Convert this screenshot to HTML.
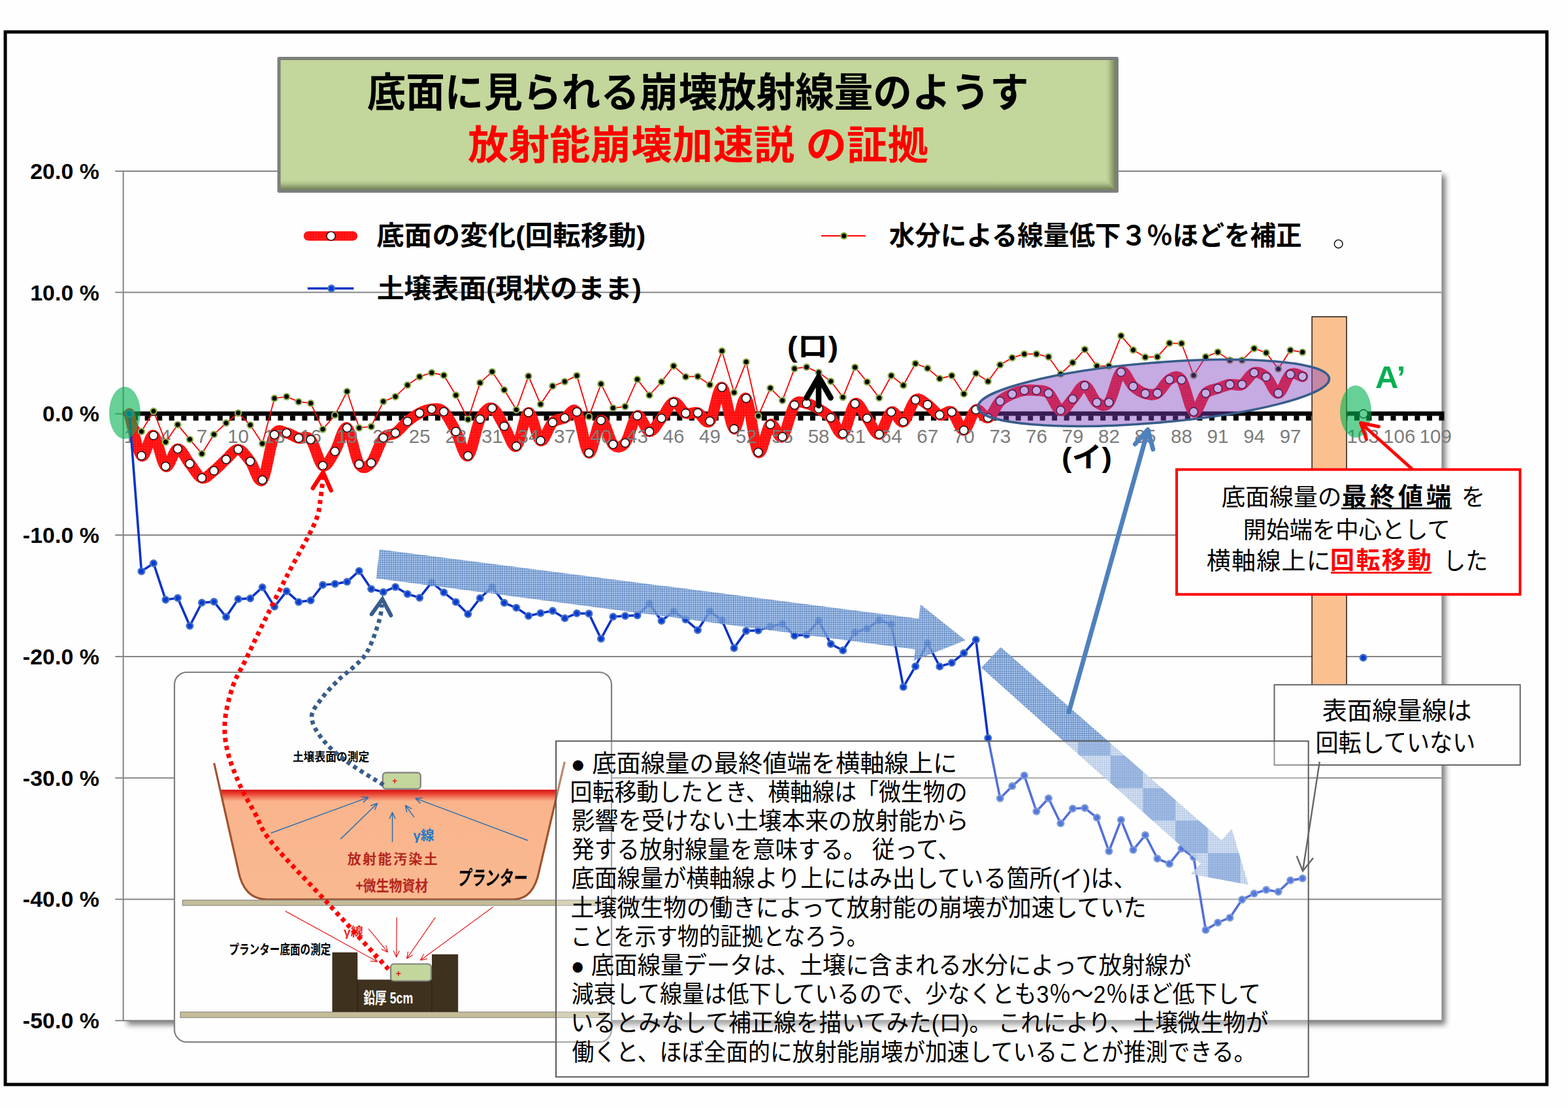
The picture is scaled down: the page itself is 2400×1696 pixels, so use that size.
<!DOCTYPE html>
<html><head><meta charset="utf-8"><title>chart</title>
<style>html,body{margin:0;padding:0;background:#fefefe}svg{display:block}text{font-family:"Liberation Sans",sans-serif}text.j{font-family:"Liberation Sans","Noto Sans CJK JP",sans-serif}</style>
</head><body>
<svg width="2400" height="1696" viewBox="0 0 2400 1696">
<defs>
<filter id="sh" x="-2%" y="-2%" width="104%" height="104%"><feGaussianBlur stdDeviation="4"/></filter>
<pattern id="pr" width="2.6" height="2.6" patternUnits="userSpaceOnUse"><rect width="2.6" height="2.6" fill="#f00"/><rect width="1" height="1" fill="#fff" fill-opacity=".55"/></pattern>
<pattern id="pb" width="3.4" height="3.4" patternUnits="userSpaceOnUse"><rect width="3.4" height="3.4" fill="#a8c9f3"/><path d="M0 .5H3.4M.5 0V3.4" stroke="#4470b2" stroke-width="1.1"/></pattern>
<pattern id="pc" width="99.4" height="99.4" patternUnits="userSpaceOnUse" patternTransform="translate(1650 1107)"><rect width="99.4" height="99.4" fill="#fff" fill-opacity=".3"/><rect width="49.7" height="49.7" fill="#5a88cc" fill-opacity=".42"/><rect x="49.7" y="49.7" width="49.7" height="49.7" fill="#5a88cc" fill-opacity=".42"/></pattern>
<linearGradient id="so" x1="0" y1="1209.7" x2="0" y2="1378" gradientUnits="userSpaceOnUse"><stop offset="0" stop-color="#d81818"/><stop offset=".03" stop-color="#e84030"/><stop offset=".1" stop-color="#f9b48c"/><stop offset="1" stop-color="#fab990"/></linearGradient>
<linearGradient id="tr" x1="1692" y1="0" x2="1708" y2="0" gradientUnits="userSpaceOnUse"><stop offset="0" stop-color="#c3d69b"/><stop offset=".3" stop-color="#b7c991"/><stop offset="1" stop-color="#6e7d55"/></linearGradient>
<linearGradient id="tb" x1="0" y1="276" x2="0" y2="292" gradientUnits="userSpaceOnUse"><stop offset="0" stop-color="#c3d69b"/><stop offset=".3" stop-color="#b2c48d"/><stop offset="1" stop-color="#64724a"/></linearGradient>
</defs>
<rect width="2400" height="1696" fill="#fefefe"/>
<rect x="8.1" y="48.9" width="2359.6" height="1611.1" fill="none" stroke="#000" stroke-width="5"/>
<rect x="194.7" y="268.0" width="2017.8" height="1300.8" fill="#000" opacity=".5" filter="url(#sh)"/>
<rect x="188.7" y="262.0" width="2017.8" height="1300.8" fill="#fefefe"/>
<path d="M176.3 261.9H2206.5M176.3 447.6H2206.5M176.3 819.1H2206.5M176.3 1004.9H2206.5M176.3 1190.7H2206.5M176.3 1376.4H2206.5M176.3 1562.2H2206.5M176.3 633.4H188.7M188.7 261.0V1562.8" stroke="#868686" stroke-width="2" fill="none"/>
<text x="152" y="273.9" text-anchor="end" font-family="Liberation Sans" font-weight="bold" font-size="34" fill="#000">20.0 %</text>
<text x="152" y="459.6" text-anchor="end" font-family="Liberation Sans" font-weight="bold" font-size="34" fill="#000">10.0 %</text>
<text x="152" y="645.4" text-anchor="end" font-family="Liberation Sans" font-weight="bold" font-size="34" fill="#000">0.0 %</text>
<text x="152" y="831.1" text-anchor="end" font-family="Liberation Sans" font-weight="bold" font-size="34" fill="#000">-10.0 %</text>
<text x="152" y="1016.9" text-anchor="end" font-family="Liberation Sans" font-weight="bold" font-size="34" fill="#000">-20.0 %</text>
<text x="152" y="1202.7" text-anchor="end" font-family="Liberation Sans" font-weight="bold" font-size="34" fill="#000">-30.0 %</text>
<text x="152" y="1388.4" text-anchor="end" font-family="Liberation Sans" font-weight="bold" font-size="34" fill="#000">-40.0 %</text>
<text x="152" y="1574.2" text-anchor="end" font-family="Liberation Sans" font-weight="bold" font-size="34" fill="#000">-50.0 %</text>
<path d="M188.7 633.2H2210.5" stroke="#000" stroke-width="6.8" fill="none"/>
<path d="M207.2 636.3v7.4M225.7 636.3v7.4M244.2 636.3v7.4M262.7 636.3v7.4M281.3 636.3v7.4M299.8 636.3v7.4M318.3 636.3v7.4M336.8 636.3v7.4M355.3 636.3v7.4M373.8 636.3v7.4M392.3 636.3v7.4M410.8 636.3v7.4M429.4 636.3v7.4M447.9 636.3v7.4M466.4 636.3v7.4M484.9 636.3v7.4M503.4 636.3v7.4M521.9 636.3v7.4M540.4 636.3v7.4M558.9 636.3v7.4M577.5 636.3v7.4M596.0 636.3v7.4M614.5 636.3v7.4M633.0 636.3v7.4M651.5 636.3v7.4M670.0 636.3v7.4M688.5 636.3v7.4M707.0 636.3v7.4M725.5 636.3v7.4M744.1 636.3v7.4M762.6 636.3v7.4M781.1 636.3v7.4M799.6 636.3v7.4M818.1 636.3v7.4M836.6 636.3v7.4M855.1 636.3v7.4M873.6 636.3v7.4M892.2 636.3v7.4M910.7 636.3v7.4M929.2 636.3v7.4M947.7 636.3v7.4M966.2 636.3v7.4M984.7 636.3v7.4M1003.2 636.3v7.4M1021.7 636.3v7.4M1040.3 636.3v7.4M1058.8 636.3v7.4M1077.3 636.3v7.4M1095.8 636.3v7.4M1114.3 636.3v7.4M1132.8 636.3v7.4M1151.3 636.3v7.4M1169.8 636.3v7.4M1188.3 636.3v7.4M1206.9 636.3v7.4M1225.4 636.3v7.4M1243.9 636.3v7.4M1262.4 636.3v7.4M1280.9 636.3v7.4M1299.4 636.3v7.4M1317.9 636.3v7.4M1336.4 636.3v7.4M1355.0 636.3v7.4M1373.5 636.3v7.4M1392.0 636.3v7.4M1410.5 636.3v7.4M1429.0 636.3v7.4M1447.5 636.3v7.4M1466.0 636.3v7.4M1484.5 636.3v7.4M1503.1 636.3v7.4M1521.6 636.3v7.4M1540.1 636.3v7.4M1558.6 636.3v7.4M1577.1 636.3v7.4M1595.6 636.3v7.4M1614.1 636.3v7.4M1632.6 636.3v7.4M1651.1 636.3v7.4M1669.7 636.3v7.4M1688.2 636.3v7.4M1706.7 636.3v7.4M1725.2 636.3v7.4M1743.7 636.3v7.4M1762.2 636.3v7.4M1780.7 636.3v7.4M1799.2 636.3v7.4M1817.8 636.3v7.4M1836.3 636.3v7.4M1854.8 636.3v7.4M1873.3 636.3v7.4M1891.8 636.3v7.4M1910.3 636.3v7.4M1928.8 636.3v7.4M1947.3 636.3v7.4M1965.9 636.3v7.4M1984.4 636.3v7.4M2002.9 636.3v7.4M2021.4 636.3v7.4M2039.9 636.3v7.4M2058.4 636.3v7.4M2076.9 636.3v7.4M2095.4 636.3v7.4M2113.9 636.3v7.4M2132.5 636.3v7.4M2151.0 636.3v7.4M2169.5 636.3v7.4M2188.0 636.3v7.4M2206.5 636.3v7.4" stroke="#000" stroke-width="8" fill="none"/>
<path d="M198.0 633.4C201.0 644.1 210.3 692.1 216.5 697.6C222.6 703.1 228.8 663.9 235.0 666.6C241.2 669.3 247.3 710.4 253.5 713.8C259.7 717.2 265.8 687.9 272.0 687.2C278.2 686.5 284.3 702.4 290.5 709.8C296.7 717.2 302.9 729.8 309.0 731.6C315.2 733.4 321.4 725.3 327.5 720.6C333.7 715.9 339.9 708.6 346.1 703.2C352.2 697.8 358.4 687.5 364.6 688.0C370.7 688.5 376.9 698.5 383.1 706.3C389.2 714.1 395.4 741.5 401.6 734.7C407.8 727.9 413.9 677.4 420.1 665.4C426.3 653.4 432.4 661.9 438.6 662.8C444.8 663.7 451.0 668.9 457.1 670.6C463.3 672.3 469.5 665.9 475.6 672.9C481.8 679.9 488.0 709.8 494.1 712.8C500.3 715.8 506.5 700.6 512.7 691.0C518.8 681.4 525.0 651.7 531.2 655.0C537.3 658.3 543.5 701.7 549.7 710.6C555.9 719.5 562.0 715.3 568.2 708.6C574.4 701.9 580.5 677.9 586.7 670.3C592.9 662.7 599.0 667.0 605.2 662.8C611.4 658.6 617.6 650.2 623.7 645.1C629.9 640.0 636.1 635.4 642.2 632.3C648.4 629.1 654.6 626.6 660.8 626.2C666.9 625.9 673.1 624.5 679.3 630.2C685.4 635.9 691.6 649.4 697.8 660.6C704.0 671.9 710.1 700.9 716.3 697.7C722.5 694.5 728.6 653.8 734.8 641.6C741.0 629.5 747.1 623.0 753.3 624.8C759.5 626.6 765.7 642.7 771.8 652.4C778.0 662.1 784.2 686.4 790.3 682.9C796.5 679.4 802.7 632.9 808.9 631.5C815.0 630.1 821.2 672.0 827.4 674.5C833.5 677.0 839.7 652.4 845.9 646.6C852.0 640.8 858.2 642.5 864.4 639.8C870.6 637.1 876.7 621.7 882.9 630.6C889.1 639.5 895.2 691.2 901.4 693.3C907.6 695.4 913.8 645.6 919.9 643.4C926.1 641.2 932.3 674.5 938.4 680.3C944.6 686.1 950.8 685.3 956.9 678.0C963.1 670.7 969.3 639.3 975.5 636.4C981.6 633.5 987.8 660.0 994.0 660.6C1000.1 661.2 1006.3 647.7 1012.5 640.2C1018.7 632.8 1024.8 617.2 1031.0 615.9C1037.2 614.6 1043.3 629.7 1049.5 632.4C1055.7 635.1 1061.8 629.9 1068.0 631.9C1074.2 633.9 1080.4 651.1 1086.5 644.6C1092.7 638.1 1098.9 590.9 1105.0 592.9C1111.2 594.9 1117.4 653.6 1123.6 656.4C1129.7 659.2 1135.9 603.8 1142.1 609.8C1148.2 615.8 1154.4 685.5 1160.6 692.2C1166.8 698.9 1172.9 653.7 1179.1 649.8C1185.3 645.9 1191.4 673.6 1197.6 668.6C1203.8 663.6 1209.9 628.4 1216.1 619.9C1222.3 611.4 1228.5 616.6 1234.6 617.6C1240.8 618.6 1247.0 622.2 1253.1 625.8C1259.3 629.4 1265.5 633.1 1271.7 639.4C1277.8 645.7 1284.0 667.4 1290.2 663.8C1296.3 660.2 1302.5 621.8 1308.7 617.9C1314.8 614.0 1321.0 632.5 1327.2 640.3C1333.4 648.1 1339.5 666.3 1345.7 664.7C1351.9 663.1 1358.0 633.9 1364.2 630.7C1370.4 627.5 1376.6 648.6 1382.7 645.5C1388.9 642.4 1395.1 616.5 1401.2 612.1C1407.4 607.8 1413.6 615.6 1419.7 619.4C1425.9 623.2 1432.1 633.2 1438.3 635.1C1444.4 637.0 1450.6 626.8 1456.8 630.7C1462.9 634.6 1469.1 659.2 1475.3 658.6C1481.5 658.0 1487.6 630.4 1493.8 627.2C1500.0 624.0 1506.1 641.6 1512.3 639.4C1518.5 637.2 1524.6 620.1 1530.8 614.1C1537.0 608.1 1543.2 606.0 1549.3 603.3C1555.5 600.5 1561.7 598.5 1567.8 597.6C1574.0 596.7 1580.2 596.9 1586.4 597.6C1592.5 598.3 1598.7 596.9 1604.9 602.0C1611.0 607.1 1617.2 626.6 1623.4 628.1C1629.6 629.6 1635.7 617.0 1641.9 610.7C1648.1 604.5 1654.2 589.7 1660.4 590.6C1666.6 591.5 1672.7 611.8 1678.9 616.0C1685.1 620.2 1691.3 623.7 1697.4 616.0C1703.6 608.3 1709.8 573.8 1715.9 569.7C1722.1 565.6 1728.3 586.0 1734.5 591.4C1740.6 596.8 1746.8 600.6 1753.0 602.4C1759.1 604.1 1765.3 605.5 1771.5 601.9C1777.6 598.3 1783.8 584.4 1790.0 581.0C1796.2 577.6 1802.3 573.3 1808.5 581.5C1814.7 589.7 1820.8 626.9 1827.0 630.3C1833.2 633.7 1839.4 607.8 1845.5 601.9C1851.7 596.0 1857.9 596.8 1864.0 594.6C1870.2 592.4 1876.4 589.5 1882.5 588.5C1888.7 587.5 1894.9 591.5 1901.1 588.5C1907.2 585.5 1913.4 572.4 1919.6 570.5C1925.7 568.6 1931.9 571.9 1938.1 577.1C1944.3 582.3 1950.4 602.6 1956.6 601.9C1962.8 601.2 1968.9 577.4 1975.1 573.1C1981.3 568.8 1990.5 575.8 1993.6 576.3" stroke="url(#pr)" stroke-width="17" fill="none" stroke-linejoin="round" stroke-linecap="round"/>
<g font-family="Liberation Sans" font-size="29.5" fill="#7c7c7c" text-anchor="middle"><text x="198.0" y="678">1</text><text x="253.5" y="678">4</text><text x="309.0" y="678">7</text><text x="364.6" y="678">10</text><text x="420.1" y="678">13</text><text x="475.6" y="678">16</text><text x="531.2" y="678">19</text><text x="586.7" y="678">22</text><text x="642.2" y="678">25</text><text x="697.8" y="678">28</text><text x="753.3" y="678">31</text><text x="808.9" y="678">34</text><text x="864.4" y="678">37</text><text x="919.9" y="678">40</text><text x="975.5" y="678">43</text><text x="1031.0" y="678">46</text><text x="1086.5" y="678">49</text><text x="1142.1" y="678">52</text><text x="1197.6" y="678">55</text><text x="1253.1" y="678">58</text><text x="1308.7" y="678">61</text><text x="1364.2" y="678">64</text><text x="1419.7" y="678">67</text><text x="1475.3" y="678">70</text><text x="1530.8" y="678">73</text><text x="1586.4" y="678">76</text><text x="1641.9" y="678">79</text><text x="1697.4" y="678">82</text><text x="1753.0" y="678">85</text><text x="1808.5" y="678">88</text><text x="1864.0" y="678">91</text><text x="1919.6" y="678">94</text><text x="1975.1" y="678">97</text><text x="2030.6" y="678">100</text><text x="2086.2" y="678">103</text><text x="2141.7" y="678">106</text><text x="2197.3" y="678">109</text></g>
<g fill="#fff" stroke="#000" stroke-width="1.3"><circle cx="216.5" cy="697.6" r="6.4"/><circle cx="235.0" cy="666.6" r="6.4"/><circle cx="253.5" cy="713.8" r="6.4"/><circle cx="272.0" cy="687.2" r="6.4"/><circle cx="290.5" cy="709.8" r="6.4"/><circle cx="309.0" cy="731.6" r="6.4"/><circle cx="327.5" cy="720.6" r="6.4"/><circle cx="346.1" cy="703.2" r="6.4"/><circle cx="364.6" cy="688.0" r="6.4"/><circle cx="383.1" cy="706.3" r="6.4"/><circle cx="401.6" cy="734.7" r="6.4"/><circle cx="420.1" cy="665.4" r="6.4"/><circle cx="438.6" cy="662.8" r="6.4"/><circle cx="457.1" cy="670.6" r="6.4"/><circle cx="475.6" cy="672.9" r="6.4"/><circle cx="494.1" cy="712.8" r="6.4"/><circle cx="512.7" cy="691.0" r="6.4"/><circle cx="531.2" cy="655.0" r="6.4"/><circle cx="549.7" cy="710.6" r="6.4"/><circle cx="568.2" cy="708.6" r="6.4"/><circle cx="586.7" cy="670.3" r="6.4"/><circle cx="605.2" cy="662.8" r="6.4"/><circle cx="623.7" cy="645.1" r="6.4"/><circle cx="642.2" cy="632.3" r="6.4"/><circle cx="660.8" cy="626.2" r="6.4"/><circle cx="679.3" cy="630.2" r="6.4"/><circle cx="697.8" cy="660.6" r="6.4"/><circle cx="716.3" cy="697.7" r="6.4"/><circle cx="734.8" cy="641.6" r="6.4"/><circle cx="753.3" cy="624.8" r="6.4"/><circle cx="771.8" cy="652.4" r="6.4"/><circle cx="790.3" cy="682.9" r="6.4"/><circle cx="808.9" cy="631.5" r="6.4"/><circle cx="827.4" cy="674.5" r="6.4"/><circle cx="845.9" cy="646.6" r="6.4"/><circle cx="864.4" cy="639.8" r="6.4"/><circle cx="882.9" cy="630.6" r="6.4"/><circle cx="901.4" cy="693.3" r="6.4"/><circle cx="919.9" cy="643.4" r="6.4"/><circle cx="938.4" cy="680.3" r="6.4"/><circle cx="956.9" cy="678.0" r="6.4"/><circle cx="975.5" cy="636.4" r="6.4"/><circle cx="994.0" cy="660.6" r="6.4"/><circle cx="1012.5" cy="640.2" r="6.4"/><circle cx="1031.0" cy="615.9" r="6.4"/><circle cx="1049.5" cy="632.4" r="6.4"/><circle cx="1068.0" cy="631.9" r="6.4"/><circle cx="1086.5" cy="644.6" r="6.4"/><circle cx="1105.0" cy="592.9" r="6.4"/><circle cx="1123.6" cy="656.4" r="6.4"/><circle cx="1142.1" cy="609.8" r="6.4"/><circle cx="1160.6" cy="692.2" r="6.4"/><circle cx="1179.1" cy="649.8" r="6.4"/><circle cx="1197.6" cy="668.6" r="6.4"/><circle cx="1216.1" cy="619.9" r="6.4"/><circle cx="1234.6" cy="617.6" r="6.4"/><circle cx="1253.1" cy="625.8" r="6.4"/><circle cx="1271.7" cy="639.4" r="6.4"/><circle cx="1290.2" cy="663.8" r="6.4"/><circle cx="1308.7" cy="617.9" r="6.4"/><circle cx="1327.2" cy="640.3" r="6.4"/><circle cx="1345.7" cy="664.7" r="6.4"/><circle cx="1364.2" cy="630.7" r="6.4"/><circle cx="1382.7" cy="645.5" r="6.4"/><circle cx="1401.2" cy="612.1" r="6.4"/><circle cx="1419.7" cy="619.4" r="6.4"/><circle cx="1438.3" cy="635.1" r="6.4"/><circle cx="1456.8" cy="630.7" r="6.4"/><circle cx="1475.3" cy="658.6" r="6.4"/><circle cx="1493.8" cy="627.2" r="6.4"/><circle cx="1512.3" cy="639.4" r="6.4"/><circle cx="1530.8" cy="614.1" r="6.4"/><circle cx="1549.3" cy="603.3" r="6.4"/><circle cx="1567.8" cy="597.6" r="6.4"/><circle cx="1586.4" cy="597.6" r="6.4"/><circle cx="1604.9" cy="602.0" r="6.4"/><circle cx="1623.4" cy="628.1" r="6.4"/><circle cx="1641.9" cy="610.7" r="6.4"/><circle cx="1660.4" cy="590.6" r="6.4"/><circle cx="1678.9" cy="616.0" r="6.4"/><circle cx="1697.4" cy="616.0" r="6.4"/><circle cx="1715.9" cy="569.7" r="6.4"/><circle cx="1734.5" cy="591.4" r="6.4"/><circle cx="1753.0" cy="602.4" r="6.4"/><circle cx="1771.5" cy="601.9" r="6.4"/><circle cx="1790.0" cy="581.0" r="6.4"/><circle cx="1808.5" cy="581.5" r="6.4"/><circle cx="1827.0" cy="630.3" r="6.4"/><circle cx="1845.5" cy="601.9" r="6.4"/><circle cx="1864.0" cy="594.6" r="6.4"/><circle cx="1882.5" cy="588.5" r="6.4"/><circle cx="1901.1" cy="588.5" r="6.4"/><circle cx="1919.6" cy="570.5" r="6.4"/><circle cx="1938.1" cy="577.1" r="6.4"/><circle cx="1956.6" cy="601.9" r="6.4"/><circle cx="1975.1" cy="573.1" r="6.4"/><circle cx="1993.6" cy="576.3" r="6.4"/></g>
<path d="M198.0 633.4L216.5 660.5L235.0 629.5L253.5 676.6L272.0 650.1L290.5 672.6L309.0 694.5L327.5 664.9L346.1 647.5L364.6 632.3L383.1 650.6L401.6 679.0L420.1 609.7L438.6 607.1L457.1 614.9L475.6 617.2L494.1 657.1L512.7 635.3L531.2 599.3L549.7 654.9L568.2 652.9L586.7 614.6L605.2 607.1L623.7 589.4L642.2 576.6L660.8 570.5L679.3 574.5L697.8 604.9L716.3 642.0L734.8 585.9L753.3 569.1L771.8 596.7L790.3 627.2L808.9 575.8L827.4 618.8L845.9 590.9L864.4 584.1L882.9 574.9L901.4 637.6L919.9 587.7L938.4 624.6L956.9 622.3L975.5 580.7L994.0 604.9L1012.5 584.5L1031.0 560.2L1049.5 576.7L1068.0 576.2L1086.5 588.9L1105.0 537.2L1123.6 600.7L1142.1 554.1L1160.6 636.5L1179.1 594.1L1197.6 612.9L1216.1 564.2L1234.6 561.9L1253.1 570.1L1271.7 583.7L1290.2 608.1L1308.7 562.2L1327.2 584.6L1345.7 609.0L1364.2 575.0L1382.7 589.8L1401.2 556.4L1419.7 563.7L1438.3 579.4L1456.8 575.0L1475.3 602.9L1493.8 571.5L1512.3 583.7L1530.8 558.4L1549.3 547.6L1567.8 541.9L1586.4 541.9L1604.9 546.3L1623.4 572.4L1641.9 555.0L1660.4 534.9L1678.9 560.3L1697.4 560.3L1715.9 514.0L1734.5 535.7L1753.0 546.7L1771.5 546.2L1790.0 525.3L1808.5 525.8L1827.0 574.6L1845.5 546.2L1864.0 538.9L1882.5 551.4L1901.1 551.4L1919.6 533.4L1938.1 540.0L1956.6 564.8L1975.1 536.0L1993.6 539.1" stroke="#f00" stroke-width="1.8" fill="none"/>
<g fill="#000" stroke="#8fb04c" stroke-width="2.2"><circle cx="216.5" cy="660.5" r="4.6"/><circle cx="235.0" cy="629.5" r="4.6"/><circle cx="253.5" cy="676.6" r="4.6"/><circle cx="272.0" cy="650.1" r="4.6"/><circle cx="290.5" cy="672.6" r="4.6"/><circle cx="309.0" cy="694.5" r="4.6"/><circle cx="327.5" cy="664.9" r="4.6"/><circle cx="346.1" cy="647.5" r="4.6"/><circle cx="364.6" cy="632.3" r="4.6"/><circle cx="383.1" cy="650.6" r="4.6"/><circle cx="401.6" cy="679.0" r="4.6"/><circle cx="420.1" cy="609.7" r="4.6"/><circle cx="438.6" cy="607.1" r="4.6"/><circle cx="457.1" cy="614.9" r="4.6"/><circle cx="475.6" cy="617.2" r="4.6"/><circle cx="494.1" cy="657.1" r="4.6"/><circle cx="512.7" cy="635.3" r="4.6"/><circle cx="531.2" cy="599.3" r="4.6"/><circle cx="549.7" cy="654.9" r="4.6"/><circle cx="568.2" cy="652.9" r="4.6"/><circle cx="586.7" cy="614.6" r="4.6"/><circle cx="605.2" cy="607.1" r="4.6"/><circle cx="623.7" cy="589.4" r="4.6"/><circle cx="642.2" cy="576.6" r="4.6"/><circle cx="660.8" cy="570.5" r="4.6"/><circle cx="679.3" cy="574.5" r="4.6"/><circle cx="697.8" cy="604.9" r="4.6"/><circle cx="716.3" cy="642.0" r="4.6"/><circle cx="734.8" cy="585.9" r="4.6"/><circle cx="753.3" cy="569.1" r="4.6"/><circle cx="771.8" cy="596.7" r="4.6"/><circle cx="790.3" cy="627.2" r="4.6"/><circle cx="808.9" cy="575.8" r="4.6"/><circle cx="827.4" cy="618.8" r="4.6"/><circle cx="845.9" cy="590.9" r="4.6"/><circle cx="864.4" cy="584.1" r="4.6"/><circle cx="882.9" cy="574.9" r="4.6"/><circle cx="901.4" cy="637.6" r="4.6"/><circle cx="919.9" cy="587.7" r="4.6"/><circle cx="938.4" cy="624.6" r="4.6"/><circle cx="956.9" cy="622.3" r="4.6"/><circle cx="975.5" cy="580.7" r="4.6"/><circle cx="994.0" cy="604.9" r="4.6"/><circle cx="1012.5" cy="584.5" r="4.6"/><circle cx="1031.0" cy="560.2" r="4.6"/><circle cx="1049.5" cy="576.7" r="4.6"/><circle cx="1068.0" cy="576.2" r="4.6"/><circle cx="1086.5" cy="588.9" r="4.6"/><circle cx="1105.0" cy="537.2" r="4.6"/><circle cx="1123.6" cy="600.7" r="4.6"/><circle cx="1142.1" cy="554.1" r="4.6"/><circle cx="1160.6" cy="636.5" r="4.6"/><circle cx="1179.1" cy="594.1" r="4.6"/><circle cx="1197.6" cy="612.9" r="4.6"/><circle cx="1216.1" cy="564.2" r="4.6"/><circle cx="1234.6" cy="561.9" r="4.6"/><circle cx="1253.1" cy="570.1" r="4.6"/><circle cx="1271.7" cy="583.7" r="4.6"/><circle cx="1290.2" cy="608.1" r="4.6"/><circle cx="1308.7" cy="562.2" r="4.6"/><circle cx="1327.2" cy="584.6" r="4.6"/><circle cx="1345.7" cy="609.0" r="4.6"/><circle cx="1364.2" cy="575.0" r="4.6"/><circle cx="1382.7" cy="589.8" r="4.6"/><circle cx="1401.2" cy="556.4" r="4.6"/><circle cx="1419.7" cy="563.7" r="4.6"/><circle cx="1438.3" cy="579.4" r="4.6"/><circle cx="1456.8" cy="575.0" r="4.6"/><circle cx="1475.3" cy="602.9" r="4.6"/><circle cx="1493.8" cy="571.5" r="4.6"/><circle cx="1512.3" cy="583.7" r="4.6"/><circle cx="1530.8" cy="558.4" r="4.6"/><circle cx="1549.3" cy="547.6" r="4.6"/><circle cx="1567.8" cy="541.9" r="4.6"/><circle cx="1586.4" cy="541.9" r="4.6"/><circle cx="1604.9" cy="546.3" r="4.6"/><circle cx="1623.4" cy="572.4" r="4.6"/><circle cx="1641.9" cy="555.0" r="4.6"/><circle cx="1660.4" cy="534.9" r="4.6"/><circle cx="1678.9" cy="560.3" r="4.6"/><circle cx="1697.4" cy="560.3" r="4.6"/><circle cx="1715.9" cy="514.0" r="4.6"/><circle cx="1734.5" cy="535.7" r="4.6"/><circle cx="1753.0" cy="546.7" r="4.6"/><circle cx="1771.5" cy="546.2" r="4.6"/><circle cx="1790.0" cy="525.3" r="4.6"/><circle cx="1808.5" cy="525.8" r="4.6"/><circle cx="1827.0" cy="574.6" r="4.6"/><circle cx="1845.5" cy="546.2" r="4.6"/><circle cx="1864.0" cy="538.9" r="4.6"/><circle cx="1882.5" cy="551.4" r="4.6"/><circle cx="1901.1" cy="551.4" r="4.6"/><circle cx="1919.6" cy="533.4" r="4.6"/><circle cx="1938.1" cy="540.0" r="4.6"/><circle cx="1956.6" cy="564.8" r="4.6"/><circle cx="1975.1" cy="536.0" r="4.6"/><circle cx="1993.6" cy="539.1" r="4.6"/></g>
<path d="M198.0 633.4L216.5 874.4L235.0 862.2L253.5 918.1L272.0 915.3L290.5 958.0L309.0 922.5L327.5 921.1L346.1 944.3L364.6 917.1L383.1 915.9L401.6 899.0L420.1 928.6L438.6 905.1L457.1 921.4L475.6 919.0L494.1 895.3L512.7 893.7L531.2 890.6L549.7 873.9L568.2 901.5L586.7 906.2L605.2 898.4L623.7 909.2L642.2 914.9L660.8 891.4L679.3 906.8L697.8 921.4L716.3 939.9L734.8 915.5L753.3 898.7L771.8 922.8L790.3 930.3L808.9 942.8L827.4 938.5L845.9 935.0L864.4 946.3L882.9 938.8L901.4 939.3L919.9 977.7L938.4 944.0L956.9 942.8L975.5 941.9L994.0 924.1L1012.5 950.2L1031.0 936.1L1049.5 948.3L1068.0 964.5L1086.5 935.8L1105.0 949.4L1123.6 991.9L1142.1 965.7L1160.6 964.9L1179.1 959.0L1197.6 954.9L1216.1 972.9L1234.6 971.5L1253.1 950.1L1271.7 985.8L1290.2 995.5L1308.7 968.0L1327.2 962.2L1345.7 949.3L1364.2 955.4L1382.7 1051.6L1401.2 1019.9L1419.7 984.5L1438.3 1020.2L1456.8 1014.6L1475.3 999.8L1493.8 979.3L1512.3 1129.7L1530.8 1222.0L1549.3 1203.3L1567.8 1187.1L1586.4 1242.0L1604.9 1222.0L1623.4 1260.3L1641.9 1237.7L1660.4 1236.8L1678.9 1251.6L1697.4 1303.0L1715.9 1255.1L1734.5 1300.9L1753.0 1278.3L1771.5 1314.3L1790.0 1322.2L1808.5 1298.9L1827.0 1312.0L1845.5 1423.4L1864.0 1412.2L1882.5 1404.7L1901.1 1376.9L1919.6 1367.8L1938.1 1362.1L1956.6 1365.0L1975.1 1347.6L1993.6 1344.6" stroke="#0a32c8" stroke-width="3.6" fill="none" stroke-linejoin="round"/>
<g fill="#0a3ad2" stroke="#4472c4" stroke-width="2.4"><circle cx="216.5" cy="874.4" r="4.8"/><circle cx="235.0" cy="862.2" r="4.8"/><circle cx="253.5" cy="918.1" r="4.8"/><circle cx="272.0" cy="915.3" r="4.8"/><circle cx="290.5" cy="958.0" r="4.8"/><circle cx="309.0" cy="922.5" r="4.8"/><circle cx="327.5" cy="921.1" r="4.8"/><circle cx="346.1" cy="944.3" r="4.8"/><circle cx="364.6" cy="917.1" r="4.8"/><circle cx="383.1" cy="915.9" r="4.8"/><circle cx="401.6" cy="899.0" r="4.8"/><circle cx="420.1" cy="928.6" r="4.8"/><circle cx="438.6" cy="905.1" r="4.8"/><circle cx="457.1" cy="921.4" r="4.8"/><circle cx="475.6" cy="919.0" r="4.8"/><circle cx="494.1" cy="895.3" r="4.8"/><circle cx="512.7" cy="893.7" r="4.8"/><circle cx="531.2" cy="890.6" r="4.8"/><circle cx="549.7" cy="873.9" r="4.8"/><circle cx="568.2" cy="901.5" r="4.8"/><circle cx="586.7" cy="906.2" r="4.8"/><circle cx="605.2" cy="898.4" r="4.8"/><circle cx="623.7" cy="909.2" r="4.8"/><circle cx="642.2" cy="914.9" r="4.8"/><circle cx="660.8" cy="891.4" r="4.8"/><circle cx="679.3" cy="906.8" r="4.8"/><circle cx="697.8" cy="921.4" r="4.8"/><circle cx="716.3" cy="939.9" r="4.8"/><circle cx="734.8" cy="915.5" r="4.8"/><circle cx="753.3" cy="898.7" r="4.8"/><circle cx="771.8" cy="922.8" r="4.8"/><circle cx="790.3" cy="930.3" r="4.8"/><circle cx="808.9" cy="942.8" r="4.8"/><circle cx="827.4" cy="938.5" r="4.8"/><circle cx="845.9" cy="935.0" r="4.8"/><circle cx="864.4" cy="946.3" r="4.8"/><circle cx="882.9" cy="938.8" r="4.8"/><circle cx="901.4" cy="939.3" r="4.8"/><circle cx="919.9" cy="977.7" r="4.8"/><circle cx="938.4" cy="944.0" r="4.8"/><circle cx="956.9" cy="942.8" r="4.8"/><circle cx="975.5" cy="941.9" r="4.8"/><circle cx="994.0" cy="924.1" r="4.8"/><circle cx="1012.5" cy="950.2" r="4.8"/><circle cx="1031.0" cy="936.1" r="4.8"/><circle cx="1049.5" cy="948.3" r="4.8"/><circle cx="1068.0" cy="964.5" r="4.8"/><circle cx="1086.5" cy="935.8" r="4.8"/><circle cx="1105.0" cy="949.4" r="4.8"/><circle cx="1123.6" cy="991.9" r="4.8"/><circle cx="1142.1" cy="965.7" r="4.8"/><circle cx="1160.6" cy="964.9" r="4.8"/><circle cx="1179.1" cy="959.0" r="4.8"/><circle cx="1197.6" cy="954.9" r="4.8"/><circle cx="1216.1" cy="972.9" r="4.8"/><circle cx="1234.6" cy="971.5" r="4.8"/><circle cx="1253.1" cy="950.1" r="4.8"/><circle cx="1271.7" cy="985.8" r="4.8"/><circle cx="1290.2" cy="995.5" r="4.8"/><circle cx="1308.7" cy="968.0" r="4.8"/><circle cx="1327.2" cy="962.2" r="4.8"/><circle cx="1345.7" cy="949.3" r="4.8"/><circle cx="1364.2" cy="955.4" r="4.8"/><circle cx="1382.7" cy="1051.6" r="4.8"/><circle cx="1401.2" cy="1019.9" r="4.8"/><circle cx="1419.7" cy="984.5" r="4.8"/><circle cx="1438.3" cy="1020.2" r="4.8"/><circle cx="1456.8" cy="1014.6" r="4.8"/><circle cx="1475.3" cy="999.8" r="4.8"/><circle cx="1493.8" cy="979.3" r="4.8"/><circle cx="1512.3" cy="1129.7" r="4.8"/><circle cx="1530.8" cy="1222.0" r="4.8"/><circle cx="1549.3" cy="1203.3" r="4.8"/><circle cx="1567.8" cy="1187.1" r="4.8"/><circle cx="1586.4" cy="1242.0" r="4.8"/><circle cx="1604.9" cy="1222.0" r="4.8"/><circle cx="1623.4" cy="1260.3" r="4.8"/><circle cx="1641.9" cy="1237.7" r="4.8"/><circle cx="1660.4" cy="1236.8" r="4.8"/><circle cx="1678.9" cy="1251.6" r="4.8"/><circle cx="1697.4" cy="1303.0" r="4.8"/><circle cx="1715.9" cy="1255.1" r="4.8"/><circle cx="1734.5" cy="1300.9" r="4.8"/><circle cx="1753.0" cy="1278.3" r="4.8"/><circle cx="1771.5" cy="1314.3" r="4.8"/><circle cx="1790.0" cy="1322.2" r="4.8"/><circle cx="1808.5" cy="1298.9" r="4.8"/><circle cx="1827.0" cy="1312.0" r="4.8"/><circle cx="1845.5" cy="1423.4" r="4.8"/><circle cx="1864.0" cy="1412.2" r="4.8"/><circle cx="1882.5" cy="1404.7" r="4.8"/><circle cx="1901.1" cy="1376.9" r="4.8"/><circle cx="1919.6" cy="1367.8" r="4.8"/><circle cx="1938.1" cy="1362.1" r="4.8"/><circle cx="1956.6" cy="1365.0" r="4.8"/><circle cx="1975.1" cy="1347.6" r="4.8"/><circle cx="1993.6" cy="1344.6" r="4.8"/><circle cx="2086.6" cy="1006.8" r="4.8"/></g>
<circle cx="198.0" cy="633.4" r="5" fill="#0a3ad2" stroke="#4472c4" stroke-width="2.4"/>
<circle cx="2087" cy="633.4" r="6.4" fill="#fff" stroke="#000" stroke-width="1.3"/>
<path d="M472 361.2H540" stroke="url(#pr)" stroke-width="14.5" stroke-linecap="round"/>
<circle cx="506.6" cy="361.3" r="6.6" fill="#fff" stroke="#000" stroke-width="1.3"/>
<path d="M470.8 441.5H541.4" stroke="#0a32c8" stroke-width="3.6"/><circle cx="507.2" cy="441.5" r="4.8" fill="#0a3ad2" stroke="#4472c4" stroke-width="2.4"/>
<path d="M1257 361H1325" stroke="#f00" stroke-width="1.8"/><circle cx="1291.7" cy="361" r="4.6" fill="#000" stroke="#8fb04c" stroke-width="2.2"/>
<circle cx="2048.7" cy="373.4" r="6.3" fill="none" stroke="#000" stroke-width="1.4"/>
<text class="j" x="576.2" y="375" font-size="41" font-weight="bold" fill="#000" textLength="412" lengthAdjust="spacingAndGlyphs">底面の変化(回転移動)</text>
<text class="j" x="576.7" y="456" font-size="41" font-weight="bold" fill="#000" textLength="405" lengthAdjust="spacingAndGlyphs">土壌表面(現状のまま)</text>
<text class="j" x="1360.7" y="375" font-size="41" font-weight="bold" fill="#000" textLength="632" lengthAdjust="spacingAndGlyphs">水分による線量低下３％ほどを補正</text>
<rect x="2008.1" y="484.8" width="53" height="570" fill="#fac090" stroke="#000" stroke-width="1.3"/>
<path d="M581.0 841.0L1406.3 947.0L1408.9 925.3L1477.7 980.1L1398.4 1011.5L1401.0 994.0L575.7 885.3z" fill="url(#pb)" fill-opacity=".84"/>
<path d="M1531.7 990.6L1869.7 1286.3L1885.4 1268.9L1910.7 1354.2L1822.7 1337.7L1838.0 1322.0L1502.0 1022.0z" fill="url(#pb)" fill-opacity=".84"/>
<ellipse cx="1765.7" cy="601.4" rx="269.7" ry="46" transform="rotate(-4.72 1765.7 601.4)" fill="#8040c0" fill-opacity=".44" stroke="#385d8a" stroke-width="3.6"/>
<ellipse cx="191" cy="632" rx="24" ry="40" fill="#00b050" fill-opacity=".6"/>
<ellipse cx="2075" cy="630" rx="24" ry="40" fill="#00b050" fill-opacity=".6"/>
<rect x="427" y="89.5" width="1282.5" height="203" fill="#c3d69b"/>
<path d="M1692 92H1708V292L1692 276Z" fill="url(#tr)"/>
<path d="M429 276H1692L1708 292H429Z" fill="url(#tb)"/>
<rect x="427" y="89.5" width="1282.5" height="203" fill="none" stroke="#7c7f7c" stroke-width="5" stroke-linejoin="round"/>
<text class="j" x="561.7" y="164.1" font-size="62" font-weight="bold" fill="#000" textLength="1013" lengthAdjust="spacingAndGlyphs">底面に見られる崩壊放射線量のようす</text>
<text class="j" x="716.1" y="243.5" font-size="61" font-weight="bold" fill="#f00" textLength="705" lengthAdjust="spacingAndGlyphs">放射能崩壊加速説 の証拠</text>
<text class="j" x="1205" y="546" font-size="44" font-weight="bold" fill="#000" textLength="78" lengthAdjust="spacingAndGlyphs">(ロ)</text>
<path d="M1253 621V582M1234.5 609L1253 577L1271.5 609" stroke="#000" stroke-width="8.6" fill="none" stroke-linecap="round" stroke-linejoin="miter"/>
<text x="2105" y="594.3" font-family="Liberation Sans" font-weight="bold" font-size="49" fill="#00b050">A&#8217;</text>
<rect x="267" y="1029" width="669" height="566" rx="19" fill="#fefefe" stroke="#7f7f7f" stroke-width="2.2"/>
<path d="M337.9 1208.7L854.3 1208.7L825.5 1332Q817 1376.4 786 1376.8L408 1376.8Q373 1376.4 364.7 1332Z" fill="url(#so)"/>
<path d="M327.7 1168L364.7 1332Q373 1376.4 408 1376.8L786 1376.8Q817 1376.4 825.5 1332L864.3 1166" fill="none" stroke="#a0522d" stroke-width="3.2"/>
<rect x="279.6" y="1377.8" width="640" height="8.2" fill="#c4bd97" stroke="#7f7f7f" stroke-width="1"/>
<rect x="276" y="1549" width="650" height="8.7" fill="#c4bd97" stroke="#7f7f7f" stroke-width="1"/>
<path d="M508.5 1549V1457.7H547.3V1499.5H661V1460.7H701.2V1549Z" fill="#3e311e"/>
<path d="M547.3 1499.5V1549M661 1499.5V1549" stroke="#2a2114" stroke-width="1"/>
<rect x="585.8" y="1182.6" width="58" height="25" rx="5" fill="#c3d69b" stroke="#7f7f7f" stroke-width="2.2"/>
<rect x="598" y="1475.5" width="62" height="26" rx="5" fill="#c3d69b" stroke="#7f7f7f" stroke-width="2.2"/>
<path d="M600.8 1195.4h7M604.3 1191.9v7M606.3 1490.3h7M609.8 1486.8v7" stroke="#e01010" stroke-width="1.4"/>
<path d="M414.6 1275.2L564.0 1220.4M564.0 1220.4L556.1 1228.1M564.0 1220.4L553.0 1219.7M521.3 1284.4L577.7 1229.5M577.7 1229.5L573.6 1239.7M577.7 1229.5L567.4 1233.3M600.6 1289.0L600.6 1243.2M600.6 1243.2L605.1 1253.2M600.6 1243.2L596.1 1253.2M634.0 1250.9L620.4 1232.6M620.4 1232.6L630.0 1238.0M620.4 1232.6L622.8 1243.3M807.9 1286.5L635.7 1221.9M635.7 1221.9L646.7 1221.2M635.7 1221.9L643.5 1229.6" stroke="#2a6fb0" stroke-width="1.5" fill="none"/>
<path d="M436.6 1394.6L577.7 1472.0M577.7 1472.0L566.7 1471.1M577.7 1472.0L571.0 1463.2M564.0 1421.7L593.6 1457.7M593.6 1457.7L583.8 1452.8M593.6 1457.7L590.7 1447.1M607.3 1404.3L606.7 1465.3M606.7 1465.3L602.3 1455.2M606.7 1465.3L611.3 1455.3M666.2 1404.3L622.6 1467.4M622.6 1467.4L624.6 1456.6M622.6 1467.4L632.0 1461.7M754.6 1388.2L643.3 1469.9M643.3 1469.9L648.8 1460.3M643.3 1469.9L654.0 1467.6" stroke="#e8282a" stroke-width="1.3" fill="none"/>
<text class="j" x="448.1" y="1165.4" font-size="18" font-weight="bold" fill="#000" textLength="117" lengthAdjust="spacingAndGlyphs">土壌表面の測定</text>
<text class="j" x="350.4" y="1460.5" font-size="20" font-weight="bold" fill="#000" textLength="156" lengthAdjust="spacingAndGlyphs">プランター底面の測定</text>
<text class="j" x="556.2" y="1536.3" font-size="24" font-weight="bold" fill="#fff" textLength="76" lengthAdjust="spacingAndGlyphs">鉛厚 5cm</text>
<text class="j" x="632.6" y="1286.2" font-size="20" font-weight="bold" fill="#1f77c9" textLength="32" lengthAdjust="spacingAndGlyphs">γ線</text>
<text class="j" x="526" y="1433" font-size="19" font-weight="bold" fill="#e8282a" textLength="30" lengthAdjust="spacingAndGlyphs">γ線</text>
<text class="j" x="531.7" y="1321.6" font-size="21" font-weight="bold" fill="#b5261e" textLength="138">放射能汚染土</text>
<text class="j" x="544.2" y="1363.9" font-size="23" font-weight="bold" fill="#b5261e" textLength="111" lengthAdjust="spacingAndGlyphs">+微生物資材</text>
<g fill="#000" transform="translate(164 0) skewX(-7)"><text class="j" x="701.7" y="1355.2" font-size="31" font-weight="bold" fill="#000" textLength="107" lengthAdjust="spacingAndGlyphs">プランター</text></g>
<path d="M594.5 1483.6C579.6 1467.3 534.7 1418.3 505.0 1386.0C475.3 1353.7 435.3 1313.5 416.2 1290.0C397.1 1266.5 398.6 1260.0 390.2 1244.8C381.8 1229.6 373.0 1215.3 365.9 1199.0C358.8 1182.7 351.2 1163.5 347.6 1147.2C344.0 1131.0 343.0 1117.8 344.5 1101.5C346.0 1085.2 351.6 1064.5 356.7 1049.6C361.8 1034.7 367.8 1026.9 375.0 1012.0C382.2 997.1 389.2 982.0 400.0 960.0C410.8 938.0 426.3 906.7 440.0 880.0C453.7 853.3 473.5 820.0 482.0 800.0C490.5 780.0 488.9 772.0 491.0 760.0C493.1 748.0 493.8 733.3 494.3 728.0" stroke="#f00" stroke-width="7" fill="none" stroke-dasharray="6.4 6"/>
<path d="M478.8 747.3L494.5 723L506.7 750.8" stroke="#f00" stroke-width="6.4" fill="none" stroke-linecap="round"/>
<path d="M587.0 1201.5C577.6 1195.5 546.0 1177.1 530.5 1165.5C515.0 1153.9 502.8 1143.2 493.9 1132.0C485.0 1120.8 477.6 1108.6 477.1 1098.4C476.6 1088.2 484.0 1080.7 490.9 1071.0C497.8 1061.3 510.1 1048.7 518.3 1040.5C526.5 1032.3 533.5 1028.0 540.0 1022.0C546.5 1016.0 552.8 1010.8 557.4 1004.7C562.0 998.6 564.5 993.0 567.9 985.5C571.2 978.0 575.0 966.9 577.5 959.4C580.0 951.9 581.5 945.9 582.7 940.2C583.9 934.5 584.2 927.5 584.5 925.0" stroke="#385d8a" stroke-width="6.6" fill="none" stroke-dasharray="6.2 5.8"/>
<path d="M568.7 940.2L585.3 917L598.4 942" stroke="#385d8a" stroke-width="6" fill="none" stroke-linecap="round"/>
<rect x="1950.5" y="1048.2" width="376.3" height="122.8" fill="#fefefe" stroke="#666" stroke-width="2"/>
<text class="j" x="2023.8" y="1100.6" font-size="38" fill="#000" textLength="229" lengthAdjust="spacingAndGlyphs">表面線量線は</text>
<text class="j" x="2013.4" y="1149.6" font-size="38" fill="#000" textLength="245" lengthAdjust="spacingAndGlyphs">回転していない</text>
<rect x="851" y="1134.4" width="1151.7" height="514" fill="#fff" fill-opacity=".3" stroke="#5a5a5a" stroke-width="2"/>
<clipPath id="ctb"><rect x="852" y="1135.4" width="1149.7" height="512"/></clipPath>
<path d="M1531.7 990.6L1869.7 1286.3L1885.4 1268.9L1910.7 1354.2L1822.7 1337.7L1838.0 1322.0L1502.0 1022.0z" fill="url(#pc)" clip-path="url(#ctb)"/>
<text class="j" x="873.4" y="1181.6" font-size="37" fill="#000" textLength="592" lengthAdjust="spacingAndGlyphs">● 底面線量の最終値端を横軸線上に</text>
<text class="j" x="872.6" y="1225.8" font-size="37" fill="#000" textLength="608" lengthAdjust="spacingAndGlyphs">回転移動したとき、横軸線は「微生物の</text>
<text class="j" x="874.7" y="1270" font-size="37" fill="#000" textLength="608" lengthAdjust="spacingAndGlyphs">影響を受けない土壌本来の放射能から</text>
<text class="j" x="874.9" y="1314.2" font-size="37" fill="#000" textLength="595" lengthAdjust="spacingAndGlyphs">発する放射線量を意味する。 従って、</text>
<text class="j" x="874.5" y="1358.4" font-size="37" fill="#000" textLength="865" lengthAdjust="spacingAndGlyphs">底面線量が横軸線より上にはみ出している箇所(イ)は、</text>
<text class="j" x="873.7" y="1402.6" font-size="37" fill="#000" textLength="881" lengthAdjust="spacingAndGlyphs">土壌微生物の働きによって放射能の崩壊が加速していた</text>
<text class="j" x="873.5" y="1446.8" font-size="37" fill="#000" textLength="455" lengthAdjust="spacingAndGlyphs">ことを示す物的証拠となろう。</text>
<text class="j" x="873.4" y="1491" font-size="37" fill="#000" textLength="950" lengthAdjust="spacingAndGlyphs">● 底面線量データは、土壌に含まれる水分によって放射線が</text>
<text class="j" x="874.8" y="1535.2" font-size="37" fill="#000" textLength="1055" lengthAdjust="spacingAndGlyphs">減衰して線量は低下しているので、少なくとも3％～2％ほど低下して</text>
<text class="j" x="873.4" y="1579.4" font-size="37" fill="#000" textLength="1068" lengthAdjust="spacingAndGlyphs">いるとみなして補正線を描いてみた(ロ)。 これにより、土壌微生物が</text>
<text class="j" x="875.4" y="1623.6" font-size="37" fill="#000" textLength="1047" lengthAdjust="spacingAndGlyphs">働くと、ほぼ全面的に放射能崩壊が加速していることが推測できる。</text>
<path d="M2019.8 1166L1994 1333.3M1984.7 1310.3L1994 1333.3L2010 1313.3" stroke="#666" stroke-width="2.4" fill="none"/>
<path d="M2161.4 718L2084.5 649M2110.5 653L2082.6 647.2L2091.4 672.5" stroke="#f00" stroke-width="5" fill="none" stroke-linecap="round" stroke-linejoin="round"/>
<rect x="1801" y="718.7" width="525.6" height="191.1" fill="#fefefe" stroke="#f00" stroke-width="4"/>
<text class="j" x="1869.5" y="774.3" font-size="36.5" fill="#000" textLength="184" lengthAdjust="spacingAndGlyphs">底面線量の</text>
<text class="j" x="2053.9" y="773.1" font-size="38" font-weight="bold" fill="#000" textLength="167">最終値端</text>
<path d="M2053 778.3H2222" stroke="#000" stroke-width="2.6"/>
<text class="j" x="2236.7" y="774.3" font-size="36.5" fill="#000">を</text>
<text class="j" x="1902.8" y="823.9" font-size="36" fill="#000" textLength="317" lengthAdjust="spacingAndGlyphs">開始端を中心として</text>
<text class="j" x="1846.7" y="871.7" font-size="37" fill="#000" textLength="190">横軸線上に</text>
<text class="j" x="2036.1" y="870.6" font-size="37" font-weight="bold" fill="#f00" textLength="155">回転移動</text>
<path d="M2037 876.6H2191" stroke="#f00" stroke-width="2.6"/>
<text class="j" x="2209.2" y="871.7" font-size="37" fill="#000" textLength="68" lengthAdjust="spacingAndGlyphs">した</text>
<path d="M1636 1090L1755.5 664M1737.4 679.8L1757 657.6L1764.8 687.6" stroke="#4f81bd" stroke-width="7" fill="none" stroke-linejoin="round" stroke-linecap="round"/>
<text class="j" x="1625" y="715.1" font-size="43" font-weight="bold" fill="#000" textLength="77" lengthAdjust="spacingAndGlyphs">(イ)</text>
</svg>
</body></html>
